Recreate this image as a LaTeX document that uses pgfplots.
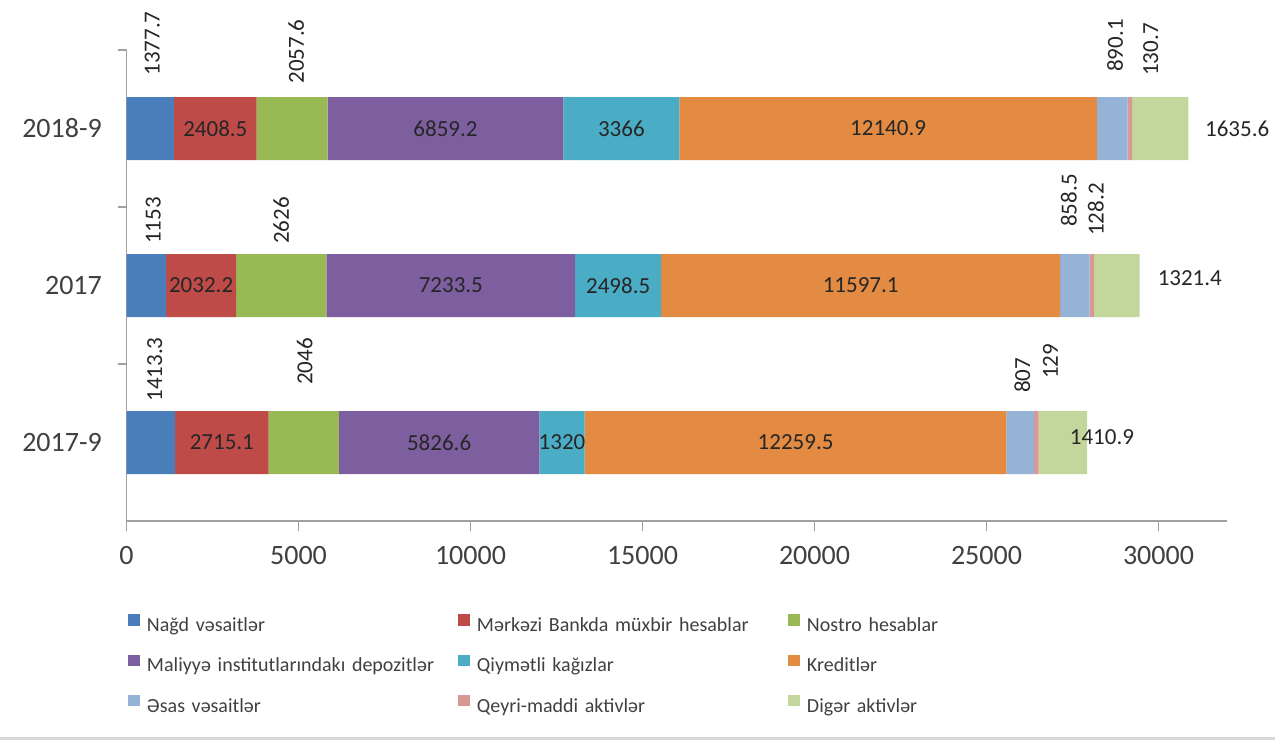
\documentclass[border=0pt]{standalone}
\usepackage{pgfplots}
\pgfplotsset{compat=1.18}
\usepackage{pgfplotstable}
\usepackage{fontspec}
\setmainfont{Carlito}

\definecolor{c1}{HTML}{4A7EBB}
\definecolor{c2}{HTML}{BE4B48}
\definecolor{c3}{HTML}{98B954}
\definecolor{c4}{HTML}{7D5FA0}
\definecolor{c5}{HTML}{4BACC6}
\definecolor{c6}{HTML}{E38B42}
\definecolor{c7}{HTML}{95B3D7}
\definecolor{c8}{HTML}{D99795}
\definecolor{c9}{HTML}{C3D69B}
\definecolor{axgray}{HTML}{A0A0A0}
\definecolor{lbl}{HTML}{262626}
\definecolor{tickc}{HTML}{404040}

% rows: 0 = 2017-9, 1 = 2017, 2 = 2018-9
\pgfplotstableread{
pos s1 s2 s3 s4 s5 s6 s7 s8 s9
0 1413.3 2715.1 2046 5826.6 1320 12259.5 807 129 1410.9
1 1153 2032.2 2626 7233.5 2498.5 11597.1 858.5 128.2 1321.4
2 1377.7 2408.5 2057.6 6859.2 3366 12140.9 890.1 130.7 1635.6
}\datatable

\newcommand\lblfont{\fontsize{11.5}{13}\selectfont}
% pick an offset by category row (0,1,2)
\newcommand\pick[3]{((\rawy<0.5)*(#1)+(\rawy>0.5)*(\rawy<1.5)*(#2)+(\rawy>1.5)*(#3))}
% labels sit at the centre of each stacked segment; offsets in pt
\pgfplotsset{
  seglabel/.style n args={7}{
    nodes near coords, point meta=explicit symbolic,
    visualization depends on={y \as \rawy},
    every node near coord/.append style={font=\lblfont, text=lbl, inner sep=0pt,
      xshift={\pick{#2}{#3}{#4}}, yshift={\pick{#5}{#6}{#7}},
      rotate=#1, anchor=center},
  },
}

\begin{document}
\begin{tikzpicture}
\useasboundingbox (0,0) rectangle (637.5pt,370pt);
\begin{axis}[
  at={(63.25pt,109.5pt)}, anchor=south west,
  scale only axis, width=550.4pt, height=235.5pt,
  xbar stacked, bar width=31.5pt,
  xmin=0, xmax=32000, ymin=-0.5, ymax=2.5,
  xtick={0,5000,...,30000},
  scaled x ticks=false,
  ytick={0,1,2}, yticklabels={2017-9,2017,2018-9},
  extra y ticks={0.5,1.5,2.5}, extra y tick labels={},
  extra y tick style={grid=none, ytick style={draw=axgray, line width=0.8pt}, major tick length=4pt},
  ytick style={draw=none},
  xtick style={draw=axgray, line width=0.8pt},
  tick align=outside, major tick length=5pt,
  axis x line*=bottom, axis y line*=left,
  axis line style={draw=axgray, line width=0.8pt, -},
  every outer x axis line/.append style={-},
  every outer y axis line/.append style={-},
  /pgf/number format/assume math mode=true,
  /pgf/number format/1000 sep={},
  tick label style={font=\fontsize{14}{16}\selectfont, text=tickc},
  xticklabel style={yshift=-4.3pt},
  yticklabel style={xshift=-3.8pt},
  legend columns=3,
  legend cell align=left,
  legend style={
    at={(axis description cs:0,0)}, anchor=north west, yshift=-46.7pt, xshift=0.75pt,
    draw=none, fill=none, inner sep=0pt, outer sep=0pt,
    font=\fontsize{10}{12}\selectfont, text=tickc,
    row sep=9.35pt,
    nodes={inner sep=0pt, text height=7pt, text depth=2pt},
    /tikz/every odd column/.style={column sep=3.7pt},
    /tikz/every even column/.style={column sep=0pt, text width=155.5pt, align=left},
  },
  legend image code/.code={\fill[#1] (0pt,0.4pt) rectangle (5.8pt,6.2pt);},
]
\addplot[fill=c1, draw=none, seglabel={90}{2}{3.5}{1}{36.5}{32.5}{42.5}] table[x=s1, y=pos, meta=s1] {\datatable};
\addplot[fill=c2, draw=none, seglabel={0}{0}{0}{0}{0}{0}{0}] table[x=s2, y=pos, meta=s2] {\datatable};
\addplot[fill=c3, draw=none, seglabel={90}{0.5}{0}{2}{40.5}{32.5}{38.5}] table[x=s3, y=pos, meta=s3] {\datatable};
\addplot[fill=c4, draw=none, seglabel={0}{0}{0}{0}{0}{0}{0}] table[x=s4, y=pos, meta=s4] {\datatable};
\addplot[fill=c5, draw=none, seglabel={0}{0}{0}{0}{0}{0}{0}] table[x=s5, y=pos, meta=s5] {\datatable};
\addplot[fill=c6, draw=none, seglabel={0}{0}{0}{0}{0}{0}{0}] table[x=s6, y=pos, meta=s6] {\datatable};
\addplot[fill=c7, draw=none, seglabel={90}{1}{-3}{1.5}{33.5}{42.5}{41.5}] table[x=s7, y=pos, meta=s7] {\datatable};
\addplot[fill=c8, draw=none, seglabel={90}{7}{2}{10.5}{40.5}{38}{39.5}] table[x=s8, y=pos, meta=s8] {\datatable};
\addplot[fill=c9, draw=none, seglabel={0}{19.5}{36.5}{38.5}{2.5}{3.5}{0}] table[x=s9, y=pos, meta=s9] {\datatable};
\legend{Nağd vəsaitlər, Mərkəzi Bankda müxbir hesablar, Nostro hesablar,
  Maliyyə institutlarındakı depozitlər, Qiymətli kağızlar, Kreditlər,
  Əsas vəsaitlər, Qeyri-maddi aktivlər, Digər aktivlər}
\end{axis}
\draw[black!15, line width=1.5pt] (0pt,0.75pt) -- (637.5pt,0.75pt);
\end{tikzpicture}
\end{document}
